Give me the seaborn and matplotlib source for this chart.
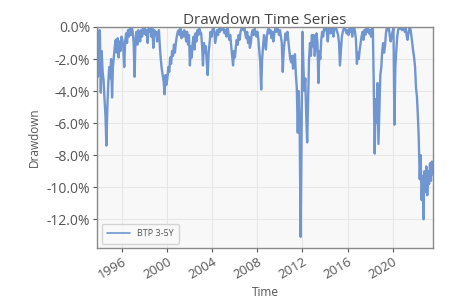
import numpy as np
import pandas as pd
import matplotlib
matplotlib.use("Agg")
import matplotlib.pyplot as plt
import matplotlib.dates as mdates
from matplotlib.ticker import PercentFormatter
import seaborn as sns

# Monthly drawdown (%) of BTP 3-5Y
start_month = "1993-10-01"
series_name = "BTP 3-5Y"
dd_1993 = [0.0, -3.1, -0.4]
dd_1994 = [-0.2, -4.1, -1.5, -2.8, -3.3, -4.5, -5.5, -7.4, -5.0, -3.5, -2.5, -3.2]
dd_1995 = [-2.0, -4.4, -2.5, -1.8, -1.2, -0.8, -1.6, -0.7, -1.9, -0.9, -1.5, -0.6]
dd_1996 = [-0.8, -1.3, -2.5, -0.9, -0.4, -1.0, -0.2, -0.6, -0.1, -0.5, 0.0, -0.3]
dd_1997 = [-1.0, -3.1, -0.8, -0.3, -1.1, -0.2, -0.5, -0.9, -0.2, -0.6, -0.1, -0.4]
dd_1998 = [-0.1, -0.5, -0.2, -1.0, -0.1, -0.3, 0.0, -0.6, -0.1, -1.3, -0.2, -0.5]
dd_1999 = [-0.3, -0.9, -0.6, -0.2, -1.2, -2.0, -2.6, -3.0, -3.4, -4.2, -3.0, -3.6]
dd_2000 = [-3.2, -2.5, -2.8, -1.9, -2.3, -1.5, -1.8, -1.1, -1.6, -1.0, -0.6, -0.3]
dd_2001 = [-0.2, -0.5, -0.1, -0.7, -0.3, -0.6, -0.2, -0.4, -0.9, -0.3, -1.1, -0.5]
dd_2002 = [-2.4, -1.2, -1.9, -1.0, -0.6, -1.4, -0.4, -0.9, -0.2, -0.5, -0.1, -0.3]
dd_2003 = [-0.4, -1.2, -2.4, -1.0, -1.6, -1.2, -2.2, -3.0, -1.6, -1.0, -0.3, -0.6]
dd_2004 = [-0.2, 0.0, -0.3, -1.0, -0.6, -0.2, -0.5, -0.1, -0.3, 0.0, -0.2, -0.1]
dd_2005 = [-0.1, -0.4, -0.2, -0.6, 0.0, -0.3, -0.8, -0.5, -1.2, -1.8, -2.4, -1.5]
dd_2006 = [-1.9, -1.2, -0.8, -1.1, -0.5, -0.8, -0.3, -0.1, 0.0, -0.2, 0.0, -0.4]
dd_2007 = [-0.7, -0.3, -1.0, -0.6, -1.3, -1.0, -0.4, -0.2, -0.5, -0.1, -0.3, -0.6]
dd_2008 = [-0.3, -0.8, -1.5, -2.2, -3.9, -2.0, -1.2, -0.5, -0.9, -1.4, -0.6, -0.2]
dd_2009 = [-0.1, -0.4, -0.2, -0.7, -0.3, -0.9, -0.4, -0.1, -0.3, 0.0, -0.2, -0.5]
dd_2010 = [-0.2, -0.6, -1.0, -2.8, -1.5, -0.9, -0.4, -0.8, -0.3, -0.9, -1.5, -2.0]
dd_2011 = [-2.2, -1.8, -2.6, -2.0, -1.7, -3.0, -3.8, -6.6, -4.0, -6.0, -13.1, -7.0]
dd_2012 = [-0.3, -2.5, -4.0, -3.2, -5.5, -7.2, -4.5, -2.0, -1.0, -1.8, -0.5, -1.2]
dd_2013 = [-0.5, -1.8, -1.2, -0.4, -1.0, -3.5, -1.5, -2.0, -0.8, -0.3, -0.6, -0.1]
dd_2014 = [-0.2, 0.0, -0.3, -0.9, -0.1, 0.0, -0.4, 0.0, -0.2, -0.6, -0.1, 0.0]
dd_2015 = [-0.1, -0.3, -0.5, -1.0, -2.4, -1.5, -0.6, -0.3, -0.1, 0.0, -0.2, -0.4]
dd_2016 = [-0.2, -0.5, -0.1, -0.3, 0.0, -0.6, -0.2, 0.0, -0.3, -0.8, -2.3, -1.6]
dd_2017 = [-2.0, -1.4, -1.0, -0.6, -0.3, -0.8, -0.2, -0.5, 0.0, -0.3, -0.1, -0.4]
dd_2018 = [-0.2, -0.6, -0.1, 0.0, -3.5, -7.9, -4.5, -6.0, -3.5, -7.3, -5.0, -3.0]
dd_2019 = [-2.5, -1.5, -1.0, -1.6, -1.2, -0.4, 0.0, -0.2, 0.0, -0.5, -0.9, -0.6]
dd_2020 = [-0.3, -0.1, -6.1, -2.5, -1.5, -0.6, -0.2, 0.0, -0.1, 0.0, -0.2, 0.0]
dd_2021 = [0.0, -0.3, -0.1, -0.5, -0.8, -0.4, 0.0, -0.1, -0.5, -1.0, -1.5, -1.9]
dd_2022 = [-2.5, -3.8, -4.3, -5.5, -7.0, -9.5, -8.0, -10.8, -9.3, -12.0, -9.0, -10.3]
dd_2023 = [-8.7, -10.5, -9.0, -9.8, -8.5, -9.6, -8.4, -9.2]

values = (dd_1993 + dd_1994 + dd_1995 + dd_1996 + dd_1997 + dd_1998 + dd_1999
          + dd_2000 + dd_2001 + dd_2002 + dd_2003 + dd_2004 + dd_2005 + dd_2006
          + dd_2007 + dd_2008 + dd_2009 + dd_2010 + dd_2011 + dd_2012 + dd_2013
          + dd_2014 + dd_2015 + dd_2016 + dd_2017 + dd_2018 + dd_2019 + dd_2020
          + dd_2021 + dd_2022 + dd_2023)
dates = pd.date_range(start_month, periods=len(values), freq="MS")
df = pd.DataFrame({"Time": dates,
                   "Drawdown": np.array(values) / 100.0,
                   "Series": series_name})

sns.set_theme(style="whitegrid")
plt.rcParams["font.family"] = ["Open Sans", "DejaVu Sans"]
plt.rcParams["axes.unicode_minus"] = False

fig = plt.figure(figsize=(4.71, 3.0), dpi=100)
ax = fig.add_axes([0.206, 0.173, 0.713, 0.737])
ax.set_facecolor("#f8f8f8")

sns.lineplot(data=df, x="Time", y="Drawdown", hue="Series",
             palette=["#7096d1"], linewidth=1.7, ax=ax)

ax.set_xlim(dates[0], dates[-1])
ax.set_ylim(-0.138, 0.0)
ax.yaxis.set_major_formatter(PercentFormatter(1.0, decimals=1))
ax.xaxis.set_major_locator(mdates.YearLocator(4))
ax.xaxis.set_major_formatter(mdates.DateFormatter("%Y"))

ax.grid(True, color="#e6e6e6", linewidth=0.8)
for s in ax.spines.values():
    s.set_color("#8a8a8a")
    s.set_linewidth(1.0)

ax.tick_params(axis="y", colors="#555555", labelsize=10, length=3, width=0.8,
               left=True, pad=2)
ax.tick_params(axis="x", colors="#555555", labelsize=9.5, length=3, width=0.8,
               bottom=True, pad=2)
for lab in ax.get_xticklabels():
    lab.set_rotation(30)
    lab.set_ha("right")
    lab.set_rotation_mode("anchor")

ax.set_title("Drawdown Time Series", fontsize=11, color="#444444", pad=2)
ax.set_xlabel("Time", fontsize=8.5, color="#555555", labelpad=3)
ax.set_ylabel("Drawdown", fontsize=8.5, color="#555555")

leg = ax.legend(loc="lower left", fontsize=6.5, frameon=True, title=None,
                handlelength=2.5, borderpad=0.6)
leg.get_frame().set_edgecolor("#cccccc")
leg.get_frame().set_facecolor("#fafafa")
for t in leg.get_texts():
    t.set_color("#555555")
for h in leg.get_lines():
    h.set_linewidth(1.2)

fig.savefig("out.png", dpi=100, facecolor="white")
